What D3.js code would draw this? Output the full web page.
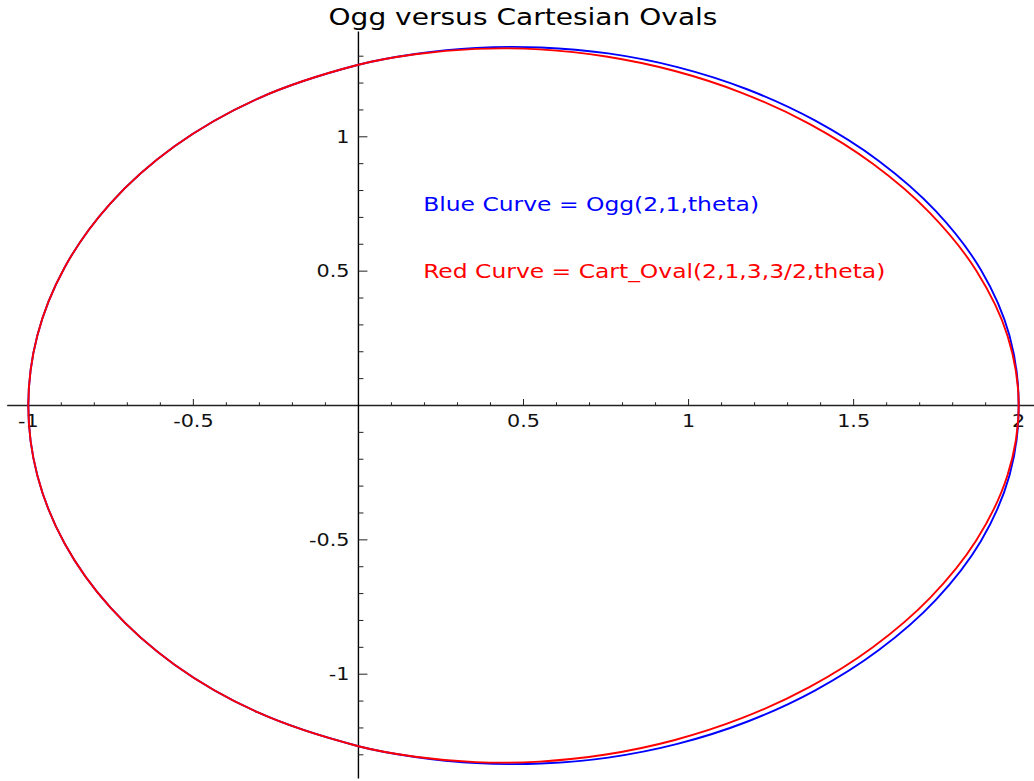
<!DOCTYPE html>
<html>
<head>
<meta charset="utf-8">
<script src="https://cdn.jsdelivr.net/npm/d3@7"></script>
<style>
  html, body { margin: 0; padding: 0; background: #fff; }
  svg { display: block; }
  text { font-family: "DejaVu Sans", sans-serif; }
</style>
</head>
<body>
<script>
// Ogg curve (blue) points, traced round the oval
const blueX = [2, 1.9723, 1.8853, 1.7483, 1.5763, 1.3825, 1.177, 0.9663, 0.7565, 0.552, 0.3566, 0.1722, 0,
               -0.3059, -0.557, -0.7517, -0.89, -0.9726, -1, -0.9726, -0.89, -0.7517, -0.557, -0.3059,
               0, 0.1722, 0.3566, 0.552, 0.7565, 0.9663, 1.177, 1.3825, 1.5763, 1.7483, 1.8853, 1.9723];
const blueY = [0, 0.2597, 0.5051, 0.7242, 0.9101, 1.0609, 1.177, 1.2593, 1.3103, 1.3326, 1.331, 1.3081, 1.268,
               1.1415, 0.9648, 0.7517, 0.5138, 0.2606, 0, -0.2606, -0.5138, -0.7517, -0.9648, -1.1415,
               -1.268, -1.3081, -1.331, -1.3326, -1.3103, -1.2593, -1.177, -1.0609, -0.9101, -0.7242, -0.5051, -0.2597];

// Cartesian oval (red) points
const redX = [2, 1.9663, 1.8717, 1.7308, 1.5581, 1.3659, 1.1629, 0.9559, 0.75, 0.5489, 0.3556, 0.1721, 0,
              -0.3059, -0.557, -0.7517, -0.89, -0.9726, -1, -0.9726, -0.89, -0.7517, -0.557, -0.3059,
              0, 0.1721, 0.3556, 0.5489, 0.75, 0.9559, 1.1629, 1.3659, 1.5581, 1.7308, 1.8717, 1.9663];
const redY = [0, 0.2589, 0.5015, 0.7169, 0.8996, 1.0481, 1.1629, 1.2458, 1.299, 1.3252, 1.3271, 1.3071, 1.268,
              1.1415, 0.9648, 0.7517, 0.5138, 0.2606, 0, -0.2606, -0.5138, -0.7517, -0.9648, -1.1415,
              -1.268, -1.3071, -1.3271, -1.3252, -1.299, -1.2458, -1.1629, -1.0481, -0.8996, -0.7169, -0.5015, -0.2589];

const xMajor = [-1, -0.5, 0.5, 1, 1.5, 2];
const xMajorLabels = ["-1", "-0.5", "0.5", "1", "1.5", "2"];
const yMajor = [1, 0.5, -0.5, -1];
const yMajorLabels = ["1", "0.5", "-0.5", "-1"];
const xMinor = [-0.9, -0.8, -0.7, -0.6, -0.4, -0.3, -0.2, -0.1, 0.1, 0.2, 0.3, 0.4, 0.6, 0.7, 0.8, 0.9,
                1.1, 1.2, 1.3, 1.4, 1.6, 1.7, 1.8, 1.9];
const yMinor = [1.3, 1.2, 1.1, 0.9, 0.8, 0.7, 0.6, 0.4, 0.3, 0.2, 0.1,
                -0.1, -0.2, -0.3, -0.4, -0.6, -0.7, -0.8, -0.9, -1.1, -1.2, -1.3];

const titleText = "Ogg versus Cartesian Ovals";
const blueLabel = "Blue Curve = Ogg(2,1,theta)";
const redLabel = "Red Curve = Cart_Oval(2,1,3,3/2,theta)";

const W = 1034, H = 781;
const stretch = 1.22; // glyphs are drawn wider than tall

const x = d3.scaleLinear().domain([-1, 2]).range([28.3, 1018.7]);
const y = d3.scaleLinear().domain([-1, 1]).range([674.2, 136.8]);

const svg = d3.select("body").append("svg").attr("width", W).attr("height", H);
svg.append("rect").attr("width", W).attr("height", H).attr("fill", "#fff");

function stretchedText(g, px, py, str, size, anchor, color) {
  return g.append("text")
    .attr("transform", `translate(${px},${py}) scale(${stretch},1)`)
    .attr("text-anchor", anchor)
    .attr("font-size", size)
    .attr("fill", color)
    .text(str);
}

// axes through the origin
const axes = svg.append("g");
axes.append("line")
  .attr("x1", x(-1.064)).attr("x2", W).attr("y1", y(0)).attr("y2", y(0))
  .attr("stroke", "#222").attr("stroke-width", 1.3);
axes.append("line")
  .attr("x1", x(0)).attr("x2", x(0)).attr("y1", y(1.392)).attr("y2", y(-1.388))
  .attr("stroke", "#000").attr("stroke-width", 1.4);

// x ticks point up, y ticks point right
axes.selectAll(".xmaj").data(xMajor).enter().append("line")
  .attr("x1", d => x(d)).attr("x2", d => x(d))
  .attr("y1", y(0)).attr("y2", y(0) - 6.5)
  .attr("stroke", "#222").attr("stroke-width", 1);
axes.selectAll(".xmin").data(xMinor).enter().append("line")
  .attr("x1", d => x(d)).attr("x2", d => x(d))
  .attr("y1", y(0)).attr("y2", y(0) - 3.2)
  .attr("stroke", "#222").attr("stroke-width", 1);
axes.selectAll(".ymaj").data(yMajor).enter().append("line")
  .attr("x1", x(0)).attr("x2", x(0) + 9)
  .attr("y1", d => y(d)).attr("y2", d => y(d))
  .attr("stroke", "#222").attr("stroke-width", 1);
axes.selectAll(".ymin").data(yMinor).enter().append("line")
  .attr("x1", x(0)).attr("x2", x(0) + 5)
  .attr("y1", d => y(d)).attr("y2", d => y(d))
  .attr("stroke", "#222").attr("stroke-width", 1);

xMajor.forEach((v, i) => {
  stretchedText(axes, x(v), y(0) + 21, xMajorLabels[i], 17, "middle", "#111");
});
yMajor.forEach((v, i) => {
  stretchedText(axes, x(0) - 9, y(v) + 6.2, yMajorLabels[i], 17, "end", "#111");
});

// curves: blue underneath, red on top
const line = d3.line()
  .x(d => x(d[0])).y(d => y(d[1]))
  .curve(d3.curveCatmullRomClosed.alpha(0.5));

const bluePts = blueX.map((v, i) => [v, blueY[i]]);
const redPts = redX.map((v, i) => [v, redY[i]]);

svg.append("path").attr("d", line(bluePts))
  .attr("fill", "none").attr("stroke", "#0000ff").attr("stroke-width", 1.9);
svg.append("path").attr("d", line(redPts))
  .attr("fill", "none").attr("stroke", "#ff0000").attr("stroke-width", 1.9);

// annotations
stretchedText(svg, x(0.196), y(0.75) + 7, blueLabel, 19.2, "start", "#0000ff");
stretchedText(svg, x(0.196), y(0.5) + 7, redLabel, 19.2, "start", "#ff0000");

// title
stretchedText(svg, 523, 25, titleText, 23, "middle", "#000");
</script>
</body>
</html>
